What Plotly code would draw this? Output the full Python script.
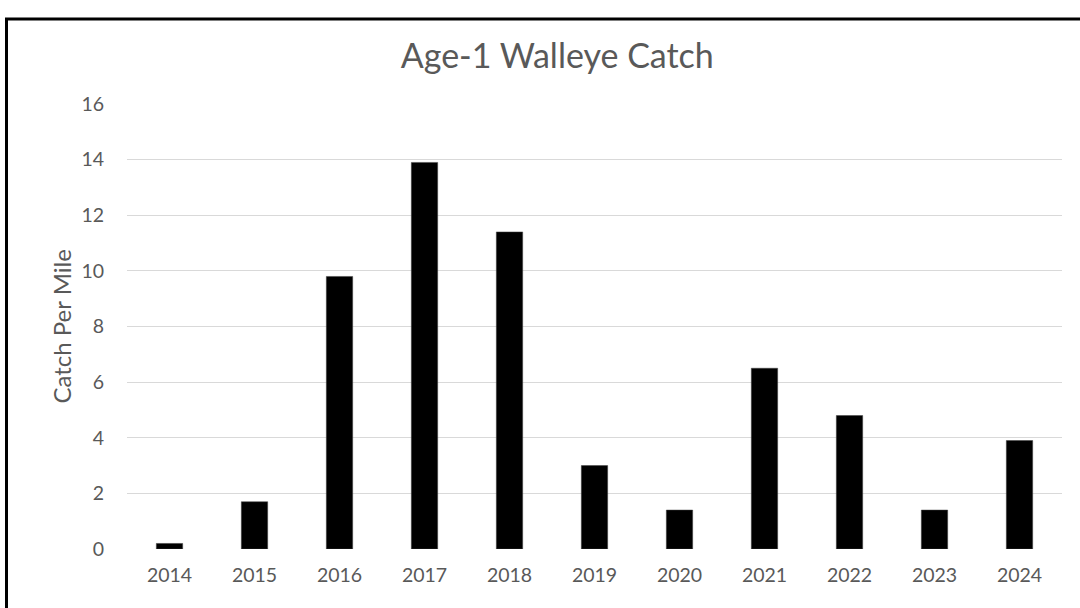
import plotly.graph_objects as go

# Age-1 walleye catch per mile by year
years = ['2014', '2015', '2016', '2017', '2018', '2019', '2020', '2021', '2022', '2023', '2024']
catch_per_mile = [0.2, 1.7, 9.8, 13.9, 11.4, 3.0, 1.4, 6.5, 4.8, 1.4, 3.9]
y_ticks = [0, 2, 4, 6, 8, 10, 12, 14, 16]

FONT = 'Lato, Calibri, sans-serif'
GREY = '#595959'

fig = go.Figure()
fig.add_trace(go.Bar(x=years, y=catch_per_mile, marker=dict(color='black', line=dict(color='#404040', width=0.5)),
                     width=0.31))

fig.update_layout(
    width=1080, height=608,
    margin=dict(l=127, r=18, t=104, b=59),
    paper_bgcolor='white', plot_bgcolor='white',
    font=dict(family=FONT, size=19, color=GREY),
    showlegend=False,
    title=dict(text='Age-1 Walleye Catch', x=0.516, xanchor='center', y=1 - 56 / 608, yanchor='middle',
               font=dict(size=34, color=GREY, family=FONT)),
)
fig.update_xaxes(showgrid=False, showline=False, ticks='', tickfont=dict(size=19.5, color=GREY),
                 ticklabelstandoff=12)
fig.update_yaxes(range=[0, 16], tickvals=y_ticks, showgrid=True, gridcolor='#d9d9d9', gridwidth=1,
                 zeroline=False, showline=False, ticks='', tickfont=dict(size=19.5, color=GREY),
                 ticklabelstandoff=22)

fig.add_annotation(text='Catch Per Mile', textangle=-90, xref='paper', yref='paper',
                   x=(61 - 127) / 935, y=0.5, xanchor='center', yanchor='middle', showarrow=False,
                   font=dict(size=24, color=GREY, family=FONT))

# thick frame around the chart (bottom/right edges fall outside the page)
fig.add_shape(type='rect', xref='paper', yref='paper', x0=(6.5 - 127) / 935, x1=1.2,
              y0=-0.3, y1=(549 - 19) / 445, line=dict(color='black', width=3))

fig.write_html('out.html', config={'displayModeBar': False},
               post_script="document.body.style.margin='0';")
